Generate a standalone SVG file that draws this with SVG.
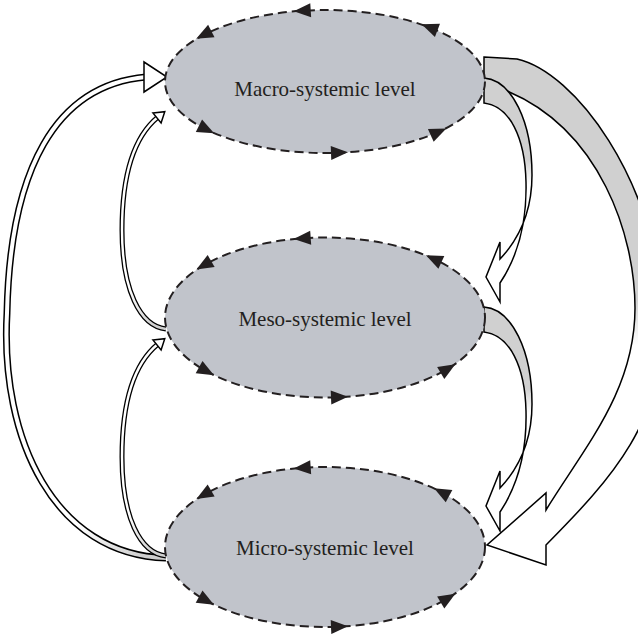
<svg xmlns="http://www.w3.org/2000/svg" width="638" height="634" viewBox="0 0 638 634">
<style>
.node ellipse{fill:#c1c4cb;stroke:#231f20;stroke-width:2;stroke-dasharray:9 5}
.node text{font-family:"Liberation Serif","Times New Roman",serif;font-size:21px;fill:#231f20;text-anchor:middle}
.ah{fill:#231f20}
.band{stroke:#000;stroke-width:1.5;stroke-linejoin:miter}
.so{fill:none;stroke:#000}
.si{fill:none}
.head{fill:#fff;stroke:#000;stroke-width:1.5;stroke-linejoin:miter}
</style>
<defs>
<path id="ah" d="M9,0 L-8,-7 L-8,7 Z"/>
<linearGradient id="gBig" gradientUnits="userSpaceOnUse" x1="0" y1="300" x2="0" y2="345"><stop offset="0" stop-color="#d0d0d0"/><stop offset="1" stop-color="#fff"/></linearGradient>
<linearGradient id="gIn" gradientUnits="userSpaceOnUse" x1="0" y1="160" x2="0" y2="185"><stop offset="0" stop-color="#d0d0d0"/><stop offset="1" stop-color="#fff"/></linearGradient>
<linearGradient id="gLB" gradientUnits="userSpaceOnUse" x1="110" y1="500" x2="150" y2="550"><stop offset="0" stop-color="#fff"/><stop offset="1" stop-color="#cfcfcf"/></linearGradient>
<linearGradient id="gLS" gradientUnits="userSpaceOnUse" x1="125" y1="290" x2="155" y2="325"><stop offset="0" stop-color="#fff"/><stop offset="1" stop-color="#cfcfcf"/></linearGradient>
</defs>

<g id="connectors">
  <!-- big right: macro -> micro -->
  <path id="c-macro-micro-right" class="band" fill="url(#gBig)" d="M484,57 L517,59 C575,72 655,180 663,310 C668,420 610,480 546,545 L546,565 L487,545 L546,493 L546,510 C586,445 635,390 635,308 C635,235 600,130 507,91 L484,88 Z"/>
  <!-- macro -> meso -->
  <path id="c-macro-meso" class="band" fill="url(#gIn)" d="M484,78 C512,80 532,122 532,175 C532,214 518,240 500,259 L500,242 L486,277 L500,302 L500,283 C518,256 527,222 526,182 C525,138 510,106 484,103 Z"/>
  <!-- meso -> micro -->
  <path id="c-meso-micro" class="band" fill="url(#gIn)" transform="translate(0,229)" d="M484,78 C512,80 532,122 532,175 C532,214 518,240 500,259 L500,242 L486,277 L500,302 L500,283 C518,256 527,222 526,182 C525,138 510,106 484,103 Z"/>
  <!-- big left: micro -> macro -->
  <g id="c-micro-macro-left">
    <path class="so" stroke-width="7" d="M166,558 C55,555 0,440 7,313 C10,170 55,85 146,77"/>
    <path class="si" stroke="url(#gLB)" stroke-width="4" d="M166,558 C55,555 0,440 7,313 C10,170 55,85 146,77"/>
    <polygon class="head" points="144,62 167,77 144,92"/>
  </g>
  <!-- meso -> macro (left inner) -->
  <g id="c-meso-macro">
    <path class="so" stroke-width="5" d="M166,329 C140,326 122,290 122,230 C122,170 136,135 158,117"/>
    <path class="si" stroke="url(#gLS)" stroke-width="2.4" d="M166,329 C140,326 122,290 122,230 C122,170 136,135 158,117"/>
    <polygon class="head" transform="translate(157,118) rotate(-39)" points="0,-6.5 10,0 0,6.5"/>
  </g>
  <!-- micro -> meso (left inner) -->
  <g id="c-micro-meso" transform="translate(0,227)">
    <path class="so" stroke-width="5" d="M166,329 C140,326 122,290 122,230 C122,170 136,135 158,117"/>
    <path class="si" stroke="url(#gLS)" stroke-width="2.4" d="M166,329 C140,326 122,290 122,230 C122,170 136,135 158,117"/>
    <polygon class="head" transform="translate(157,118) rotate(-39)" points="0,-6.5 10,0 0,6.5"/>
  </g>
</g>

<g id="macro" class="node">
  <ellipse cx="325" cy="81.5" rx="160" ry="71.5"/>
  <use href="#ah" class="ah" transform="translate(302.7,10.7) rotate(176.4)"/>
  <use href="#ah" class="ah" transform="translate(204.2,34.6) rotate(152.8)"/>
  <use href="#ah" class="ah" transform="translate(430,27.5) rotate(-158.8)"/>
  <use href="#ah" class="ah" transform="translate(206.1,129.3) rotate(26.4)"/>
  <use href="#ah" class="ah" transform="translate(438.1,132.1) rotate(-24.1)"/>
  <use href="#ah" class="ah" transform="translate(339,152.7) rotate(-2.2)"/>
  <text x="325" y="96">Macro-systemic level</text>
</g>

<g id="meso" class="node">
  <ellipse cx="325" cy="317.5" rx="160" ry="80"/>
  <use href="#ah" class="ah" transform="translate(302.7,238.3) rotate(176)"/>
  <use href="#ah" class="ah" transform="translate(204.2,265) rotate(150.1)"/>
  <use href="#ah" class="ah" transform="translate(434.1,259) rotate(-155)"/>
  <use href="#ah" class="ah" transform="translate(206.1,371) rotate(29)"/>
  <use href="#ah" class="ah" transform="translate(447.6,368.9) rotate(-30.8)"/>
  <use href="#ah" class="ah" transform="translate(339,397.2) rotate(-2.5)"/>
  <text x="325" y="326">Meso-systemic level</text>
</g>

<g id="micro" class="node">
  <ellipse cx="325" cy="547" rx="160" ry="80"/>
  <use href="#ah" class="ah" transform="translate(302.7,467.8) rotate(176)"/>
  <use href="#ah" class="ah" transform="translate(204.2,494.5) rotate(150.1)"/>
  <use href="#ah" class="ah" transform="translate(442,492.4) rotate(-151.8)"/>
  <use href="#ah" class="ah" transform="translate(206.1,600.5) rotate(29)"/>
  <use href="#ah" class="ah" transform="translate(447.6,598.4) rotate(-30.8)"/>
  <use href="#ah" class="ah" transform="translate(339,626.7) rotate(-2.5)"/>
  <text x="325" y="555">Micro-systemic level</text>
</g>
</svg>
